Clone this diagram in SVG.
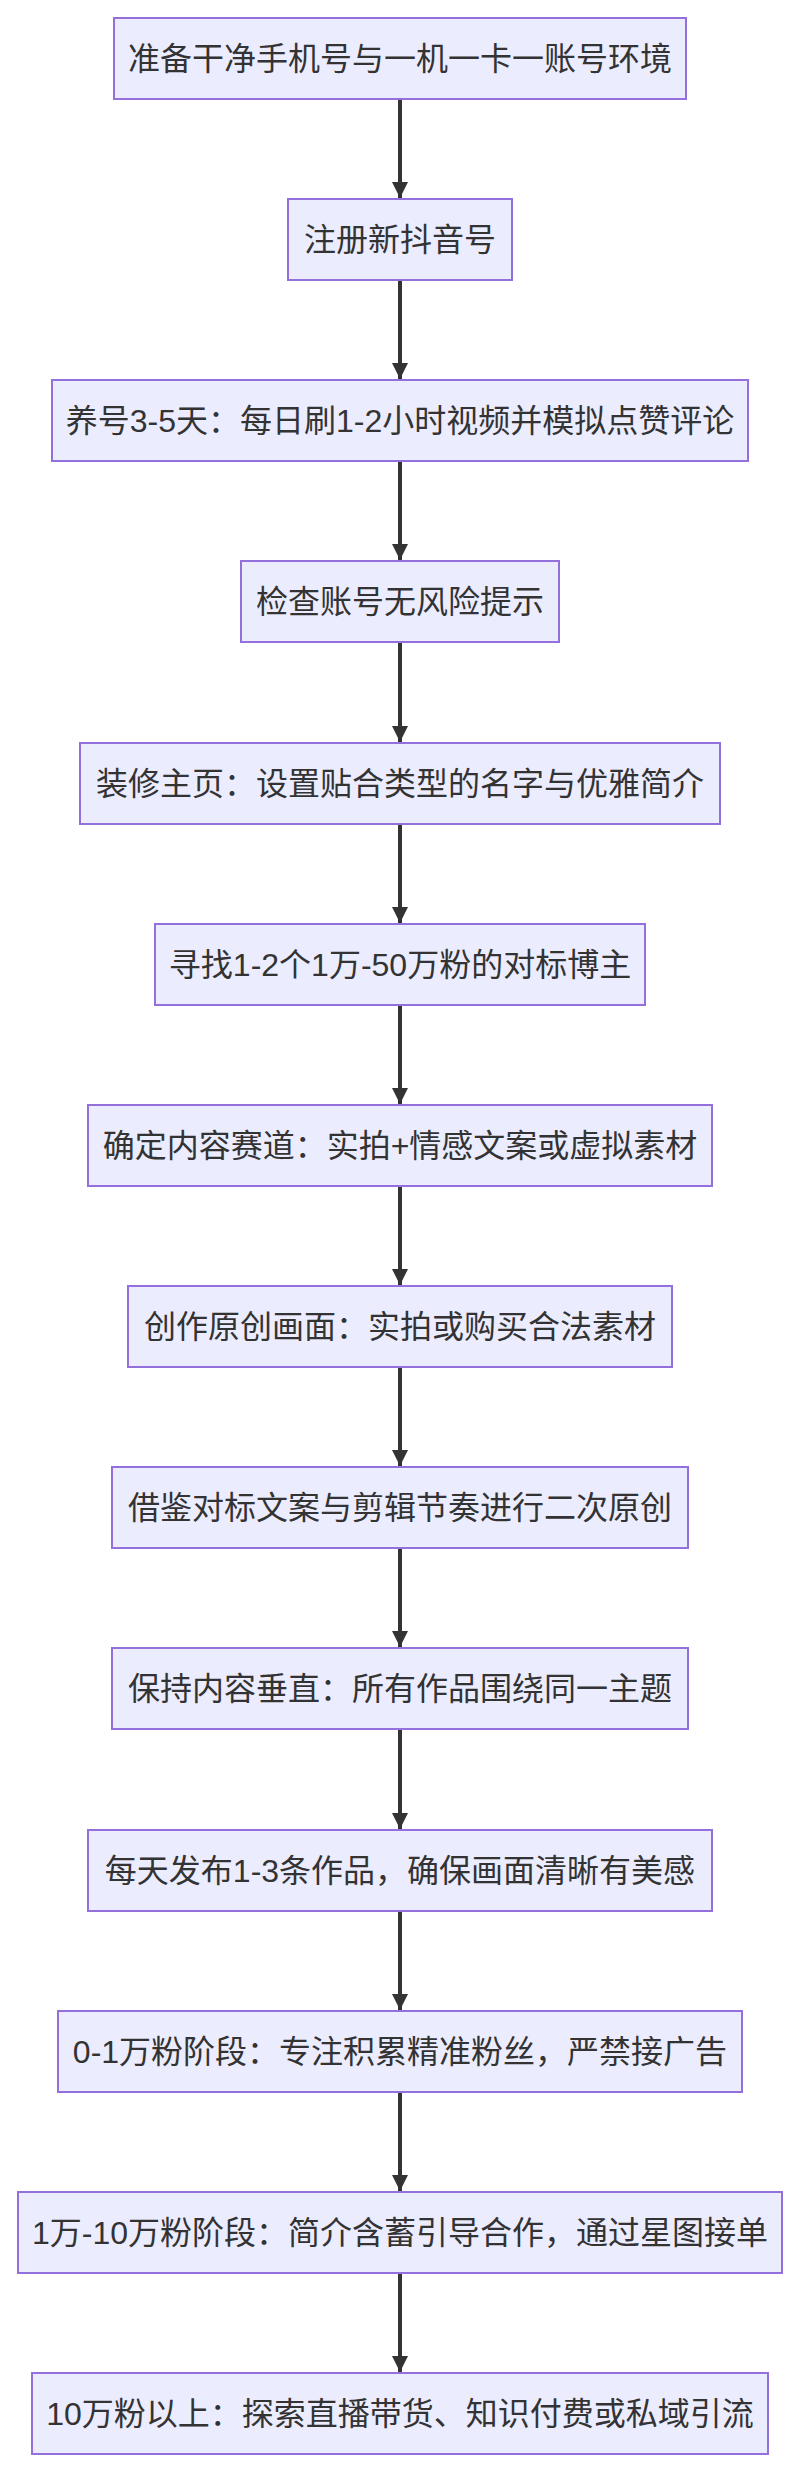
<svg xmlns="http://www.w3.org/2000/svg" width="800" height="2472" viewBox="0 0 800 2472">
<style>
.n rect{fill:#ECECFF;stroke:#9370DB;stroke-width:2}
.n text{font-family:"Liberation Sans","Noto Sans CJK SC",sans-serif;font-size:32px;fill:#333;text-anchor:middle;dominant-baseline:central}
.e line{stroke:#333;stroke-width:4}
</style>
<defs><marker id="a" viewBox="0 0 10 10" refX="10" refY="5" markerWidth="4" markerHeight="6" markerUnits="strokeWidth" orient="auto"><path d="M0,0L10,5L0,10z" fill="#333"/></marker></defs>
<rect width="800" height="2472" fill="#fff"/>
<g class="e">
<line x1="400" y1="99" x2="400" y2="198" marker-end="url(#a)"/>
<line x1="400" y1="280" x2="400" y2="379" marker-end="url(#a)"/>
<line x1="400" y1="461" x2="400" y2="560" marker-end="url(#a)"/>
<line x1="400" y1="642" x2="400" y2="742" marker-end="url(#a)"/>
<line x1="400" y1="824" x2="400" y2="923" marker-end="url(#a)"/>
<line x1="400" y1="1005" x2="400" y2="1104" marker-end="url(#a)"/>
<line x1="400" y1="1186" x2="400" y2="1285" marker-end="url(#a)"/>
<line x1="400" y1="1367" x2="400" y2="1466" marker-end="url(#a)"/>
<line x1="400" y1="1548" x2="400" y2="1647" marker-end="url(#a)"/>
<line x1="400" y1="1729" x2="400" y2="1829" marker-end="url(#a)"/>
<line x1="400" y1="1911" x2="400" y2="2010" marker-end="url(#a)"/>
<line x1="400" y1="2092" x2="400" y2="2191" marker-end="url(#a)"/>
<line x1="400" y1="2273" x2="400" y2="2372" marker-end="url(#a)"/>
</g>
<g id="n1" class="n"><rect x="114" y="18" width="572" height="81"/><text x="400" y="58.5">准备干净手机号与一机一卡一账号环境</text></g>
<g id="n2" class="n"><rect x="288" y="199" width="224" height="81"/><text x="400" y="239.5">注册新抖音号</text></g>
<g id="n3" class="n"><rect x="52" y="380" width="696" height="81"/><text x="400" y="420.5">养号3-5天：每日刷1-2小时视频并模拟点赞评论</text></g>
<g id="n4" class="n"><rect x="241" y="561" width="318" height="81"/><text x="400" y="601.5">检查账号无风险提示</text></g>
<g id="n5" class="n"><rect x="80" y="743" width="640" height="81"/><text x="400" y="783.5">装修主页：设置贴合类型的名字与优雅简介</text></g>
<g id="n6" class="n"><rect x="155" y="924" width="490" height="81"/><text x="400" y="964.5">寻找1-2个1万-50万粉的对标博主</text></g>
<g id="n7" class="n"><rect x="88" y="1105" width="624" height="81"/><text x="400" y="1145.5">确定内容赛道：实拍+情感文案或虚拟素材</text></g>
<g id="n8" class="n"><rect x="128" y="1286" width="544" height="81"/><text x="400" y="1326.5">创作原创画面：实拍或购买合法素材</text></g>
<g id="n9" class="n"><rect x="112" y="1467" width="576" height="81"/><text x="400" y="1507.5">借鉴对标文案与剪辑节奏进行二次原创</text></g>
<g id="n10" class="n"><rect x="112" y="1648" width="576" height="81"/><text x="400" y="1688.5">保持内容垂直：所有作品围绕同一主题</text></g>
<g id="n11" class="n"><rect x="88" y="1830" width="624" height="81"/><text x="400" y="1870.5">每天发布1-3条作品，确保画面清晰有美感</text></g>
<g id="n12" class="n"><rect x="58" y="2011" width="684" height="81"/><text x="400" y="2051.5">0-1万粉阶段：专注积累精准粉丝，严禁接广告</text></g>
<g id="n13" class="n"><rect x="18" y="2192" width="764" height="81"/><text x="400" y="2232.5">1万-10万粉阶段：简介含蓄引导合作，通过星图接单</text></g>
<g id="n14" class="n"><rect x="32" y="2373" width="736" height="81"/><text x="400" y="2413.5">10万粉以上：探索直播带货、知识付费或私域引流</text></g>
</svg>
